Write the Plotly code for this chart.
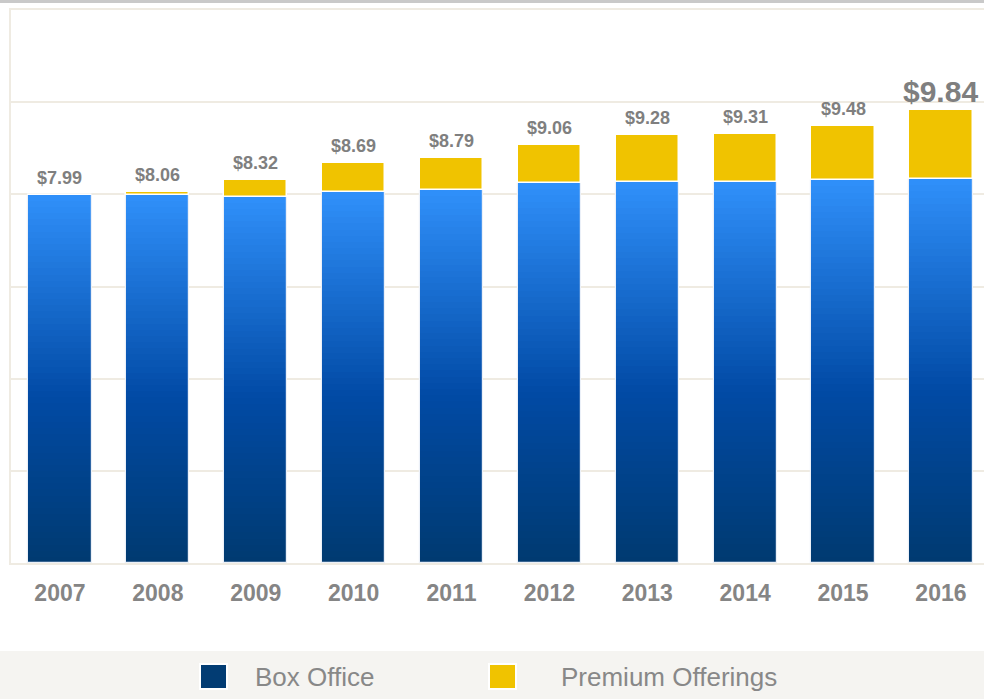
import plotly.graph_objects as go

years = ["2007", "2008", "2009", "2010", "2011", "2012", "2013", "2014", "2015", "2016"]
box_office = [7.99, 7.99, 7.95, 8.04, 8.09, 8.25, 8.26, 8.26, 8.31, 8.34]
premium = [0.00, 0.07, 0.37, 0.65, 0.70, 0.81, 1.02, 1.05, 1.17, 1.50]
totals = [7.99, 8.06, 8.32, 8.69, 8.79, 9.06, 9.28, 9.31, 9.48, 9.84]
total_labels = ["$7.99", "$8.06", "$8.32", "$8.69", "$8.79", "$9.06", "$9.28", "$9.31", "$9.48", "$9.84"]

W, H = 984, 699
ML, MR, MT, MB = 11, 0, 10, 136
PLOT_H = H - MT - MB

BAR_W = 0.645
N_SEG = 60
# gradient stops (fraction from bottom, rgb)
STOPS = [(0.0, (0, 58, 112)), (0.45, (1, 74, 165)), (1.0, (48, 144, 250))]


def grad_color(t):
    for (t0, c0), (t1, c1) in zip(STOPS[:-1], STOPS[1:]):
        if t0 <= t <= t1:
            f = (t - t0) / (t1 - t0)
            c = [round(a + (b - a) * f) for a, b in zip(c0, c1)]
            return f"rgb({c[0]},{c[1]},{c[2]})"
    return f"rgb{STOPS[-1][1]}"


fig = go.Figure()

for k in range(N_SEG):
    fig.add_trace(go.Bar(
        x=years,
        y=[b / N_SEG for b in box_office],
        base=[b * k / N_SEG for b in box_office],
        width=BAR_W,
        marker=dict(color=grad_color((k + 0.5) / N_SEG), line=dict(width=0)),
        showlegend=False, hoverinfo="skip",
    ))

# outline of box office bars
fig.add_trace(go.Bar(
    x=years, y=box_office, base=[0] * len(years), width=BAR_W,
    marker=dict(color="rgba(0,0,0,0)", line=dict(color="rgba(235,240,248,1)", width=1.2)),
    showlegend=False, name="Box Office",
))

fig.add_trace(go.Bar(
    x=years, y=premium, base=box_office, width=BAR_W,
    marker=dict(color="#F0C300", line=dict(color="white", width=1.5)),
    showlegend=False, name="Premium Offerings",
))

for i, (yr, tot, lab) in enumerate(zip(years, totals, total_labels)):
    big = yr == years[-1]
    fig.add_annotation(
        x=i, y=tot, xref="x", yref="y", text=f"<b>{lab}</b>", showarrow=False,
        yanchor="bottom", yshift=5 if not big else 0,
        font=dict(family="Liberation Sans, Arial", size=30 if big else 18, color="#7f7f7f"),
    )


def py(p):
    """pixel y (from top) -> paper y"""
    return (H - MB - p) / PLOT_H


def px(p):
    return (p - ML) / (W - ML - MR)


# legend band and top rule
fig.add_shape(type="rect", xref="paper", yref="paper", x0=px(0), x1=px(W), y0=py(651), y1=py(H + 2),
              fillcolor="#F5F4F1", line=dict(width=0), layer="below")
fig.add_shape(type="line", xref="paper", yref="paper", x0=px(0), x1=px(W), y0=py(1.5), y1=py(1.5),
              line=dict(color="#C9C9C9", width=3))

legend_items = [("Box Office", "#023C73", 200, 253), ("Premium Offerings", "#F0C300", 489, 559)]
for name, col, sx, tx in legend_items:
    fig.add_shape(type="rect", xref="paper", yref="paper", x0=px(sx), x1=px(sx + 27),
                  y0=py(664), y1=py(689), fillcolor=col, line=dict(color="white", width=2))
    fig.add_annotation(xref="paper", yref="paper", x=px(tx), y=py(677), text=name, showarrow=False,
                       xanchor="left", yanchor="middle",
                       font=dict(family="Liberation Sans, Arial", size=26, color="#888888"))

fig.update_layout(
    width=W, height=H,
    margin=dict(l=ML, r=MR, t=MT, b=MB),
    barmode="overlay", bargap=0,
    plot_bgcolor="white", paper_bgcolor="white",
    showlegend=False,
)
fig.update_xaxes(
    type="category", range=[-0.5, 9.44],
    showgrid=False, showline=True, mirror=True, linecolor="#EFEBE2", linewidth=2,
    ticks="outside", ticklen=8, tickcolor="rgba(0,0,0,0)",
    tickfont=dict(family="Liberation Sans, Arial", size=23, color="#858585"),
    tickprefix="<b>", ticksuffix="</b>",
)
fig.update_yaxes(
    range=[0, 12], dtick=2, showticklabels=False,
    showgrid=True, gridcolor="#EFEBE2", gridwidth=2,
    showline=True, linecolor="#EFEBE2", linewidth=2, zeroline=False,
)

fig.write_html("out.html", config={"displayModeBar": False},
               post_script="document.body.style.margin='0px';document.body.style.overflow='hidden';")
